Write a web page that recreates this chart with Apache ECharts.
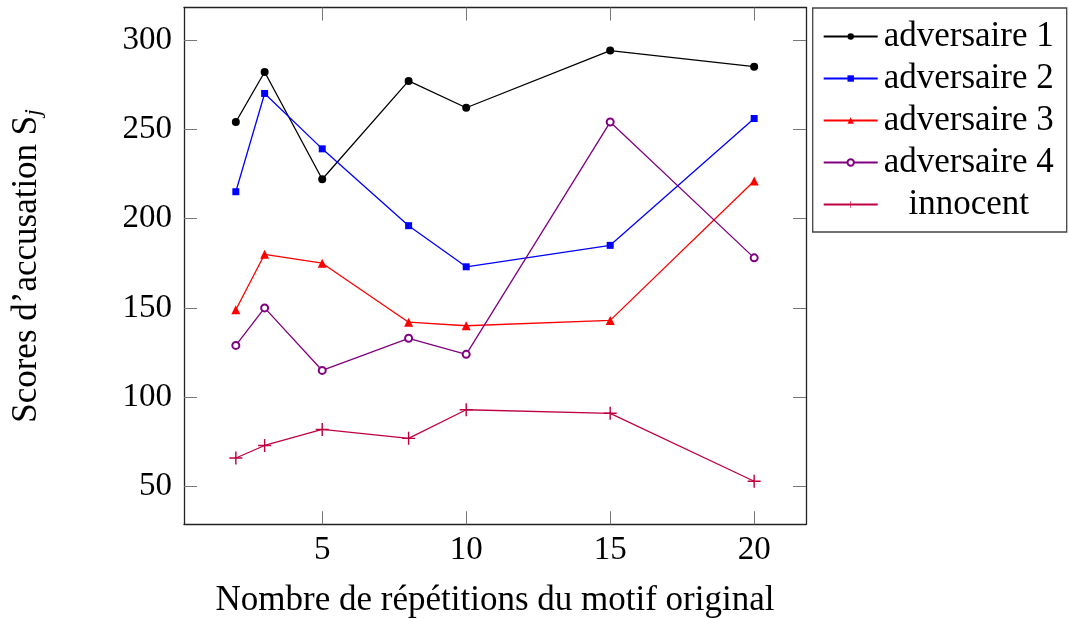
<!DOCTYPE html>
<html>
<head>
<meta charset="utf-8">
<script src="https://cdn.jsdelivr.net/npm/echarts@6/dist/echarts.min.js"></script>
<style>
html,body{margin:0;padding:0;background:#fff;}
#chart{width:1068px;height:619px;}
</style>
</head>
<body>
<div id="chart"></div>
<script>
const xValues = [2, 3, 5, 8, 10, 15, 20];
const adversaire1 = [254, 282, 222, 277, 262, 294, 285];
const adversaire2 = [215, 270, 239, 196, 173, 185, 256];
const adversaire3 = [149, 180, 175, 142, 140, 143, 221];
const adversaire4 = [129, 150, 115, 133, 124, 254, 178];
const innocent = [66, 73, 82, 77, 93, 91, 53];
const xTicks = [5, 10, 15, 20];
const yTicks = [50, 100, 150, 200, 250, 300];
const seriesNames = ['adversaire 1', 'adversaire 2', 'adversaire 3', 'adversaire 4', 'innocent'];

const FONT = 'Liberation Serif';
const FS = 33;
const FSN = 35;
const frame = { show: true, onZero: false, lineStyle: { color: '#222', width: 1.3 } };
const tick = (vals) => ({ show: true, inside: true, length: 13, customValues: vals, lineStyle: { color: '#777', width: 1 } });

function pts(arr) { return xValues.map((x, i) => [x, arr[i]]); }

const plusPath = 'path://M0,4.45 L10,4.45 L10,5.55 L0,5.55 Z M4.45,0 L5.55,0 L5.55,10 L4.45,10 Z';

const chart = echarts.init(document.getElementById('chart'), null, { renderer: 'canvas' });
chart.setOption({
  animation: false,
  backgroundColor: '#fff',
  grid: { left: 184, right: 262, top: 7.5, bottom: 94.7, containLabel: false, outerBoundsMode: 'none' },
  legend: {
    orient: 'vertical',
    left: 812.7,
    top: 8,
    padding: [11, 12, 10, 10],
    itemWidth: 54,
    itemHeight: 8,
    itemGap: 7,
    borderColor: '#444',
    borderWidth: 1.3,
    backgroundColor: '#fff',
    data: seriesNames,
    formatter: (n) => '{t|' + n + '}',
    textStyle: {
      fontFamily: FONT, fontSize: FSN, color: '#000',
      rich: { t: { width: 172, align: 'center', fontFamily: FONT, fontSize: FSN, lineHeight: 36, color: '#000' } }
    }
  },
  xAxis: [
    {
      type: 'value', position: 'bottom', min: 0.2, max: 21.8,
      axisLine: frame, axisTick: tick(xTicks), splitLine: { show: false },
      axisLabel: { show: true, customValues: xTicks, margin: 10, fontFamily: FONT, fontSize: FS, color: '#000' },
      name: 'Nombre de répétitions du motif original',
      nameLocation: 'middle', nameGap: 59,
      nameTextStyle: { fontFamily: FONT, fontSize: FSN, color: '#000' }
    },
    {
      type: 'value', position: 'top', min: 0.2, max: 21.8,
      axisLine: frame, axisTick: tick(xTicks), splitLine: { show: false },
      axisLabel: { show: false }
    }
  ],
  yAxis: [
    {
      type: 'value', position: 'left', min: 28.9, max: 318.1,
      axisLine: frame, axisTick: tick(yTicks), splitLine: { show: false },
      axisLabel: { show: true, customValues: yTicks, margin: 12, fontFamily: FONT, fontSize: FS, color: '#000' },
      name: 'Scores d’accusation S{sub|j}',
      nameLocation: 'middle', nameGap: 138, nameRotate: 90,
      nameTextStyle: {
        fontFamily: FONT, fontSize: FSN, color: '#000',
        rich: { sub: { fontFamily: FONT, fontSize: 24, fontStyle: 'italic', color: '#000', padding: [14, 0, 0, 0] } }
      }
    },
    {
      type: 'value', position: 'right', min: 28.9, max: 318.1,
      axisLine: frame, axisTick: tick(yTicks), splitLine: { show: false },
      axisLabel: { show: false }
    }
  ],
  series: [
    { name: seriesNames[0], type: 'line', data: pts(adversaire1), symbol: 'circle', symbolSize: 8,
      itemStyle: { color: '#000' }, lineStyle: { color: '#000', width: 1.3 } },
    { name: seriesNames[1], type: 'line', data: pts(adversaire2), symbol: 'rect', symbolSize: 7,
      itemStyle: { color: '#0000ff' }, lineStyle: { color: '#0000ff', width: 1.3 } },
    { name: seriesNames[2], type: 'line', data: pts(adversaire3), symbol: 'triangle', symbolSize: 9,
      itemStyle: { color: '#ff0000' }, lineStyle: { color: '#ff0000', width: 1.3 } },
    { name: seriesNames[3], type: 'line', data: pts(adversaire4), symbol: 'emptyCircle', symbolSize: 7,
      itemStyle: { color: '#800080', borderWidth: 1.2 }, lineStyle: { color: '#800080', width: 1.3 } },
    { name: seriesNames[4], type: 'line', data: pts(innocent), symbol: plusPath, symbolSize: 13,
      itemStyle: { color: '#bf0040' }, lineStyle: { color: '#bf0040', width: 1.3 } }
  ]
});
</script>
</body>
</html>
